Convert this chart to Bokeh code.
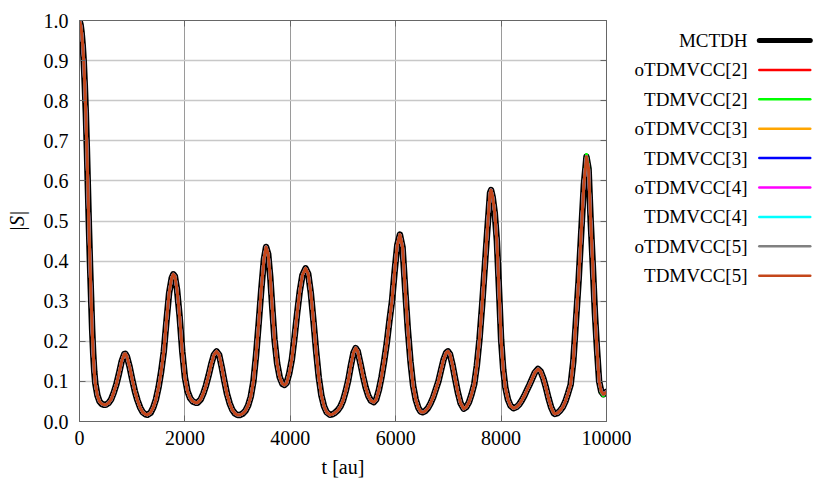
from bokeh.plotting import figure
from bokeh.layouts import row
from bokeh.models import (Range1d, FixedTicker, PrintfTickFormatter, LinearAxis,
                          ColumnDataSource, CustomJSTickFormatter)
from bokeh.embed import file_html
from bokeh.resources import INLINE

# ---------------- data ----------------
t = [0, 20, 40, 60, 80, 100, 120, 140, 160, 180, 200, 220, 240, 260, 280, 300, 340, 380, 420, 460, 500,
     550, 600, 650, 700, 750, 800, 850, 870, 900, 950, 1000, 1050, 1100, 1150, 1200, 1250, 1290,
     1350, 1400, 1450, 1500, 1550, 1600, 1650, 1700, 1750, 1780, 1810, 1850, 1900, 1950, 2000, 2050, 2100, 2150, 2200, 2240,
     2300, 2350, 2400, 2450, 2500, 2550, 2600, 2650, 2700, 2750, 2800, 2850, 2900, 2950, 3000, 3040,
     3100, 3150, 3200, 3250, 3300, 3350, 3400, 3450, 3500, 3540, 3580, 3620, 3660, 3700, 3750, 3800, 3850, 3890,
     3930, 3980, 4030, 4080, 4130, 4180, 4230, 4290, 4340, 4390, 4440, 4490, 4540, 4590, 4640, 4690, 4750,
     4800, 4850, 4900, 4950, 5000, 5050, 5100, 5150, 5200, 5240, 5280, 5330, 5380, 5430, 5480, 5530, 5585,
     5630, 5680, 5730, 5780, 5830, 5880, 5930, 5980, 6030, 6080, 6130, 6180, 6230, 6280, 6330, 6380, 6430, 6470, 6510,
     6560, 6610, 6660, 6710, 6760, 6810, 6860, 6910, 6960, 6990, 7030, 7080, 7130, 7180, 7230, 7290,
     7340, 7390, 7440, 7490, 7540, 7590, 7640, 7690, 7740, 7790, 7810, 7840, 7880, 7920, 7960, 8000, 8040, 8080, 8130, 8180, 8235,
     8290, 8340, 8390, 8440, 8490, 8540, 8590, 8640, 8700, 8750, 8800, 8850, 8900, 8950, 9000, 9020,
     9070, 9120, 9170, 9220, 9270, 9320, 9370, 9420, 9470, 9520, 9570, 9620, 9660, 9700, 9740, 9780, 9820, 9860, 9900, 9940, 9970, 10000]

s_mctdh = [1.000, 0.990, 0.970, 0.940, 0.900, 0.840, 0.770, 0.680, 0.580, 0.480, 0.390, 0.310, 0.230, 0.170, 0.125, 0.095, 0.065, 0.050, 0.044, 0.042, 0.042,
           0.046, 0.055, 0.072, 0.093, 0.120, 0.150, 0.168, 0.169, 0.162, 0.137, 0.105, 0.076, 0.053, 0.035, 0.023, 0.018, 0.017,
           0.022, 0.035, 0.055, 0.085, 0.125, 0.175, 0.250, 0.320, 0.358, 0.367, 0.362, 0.330, 0.262, 0.175, 0.110, 0.075, 0.058, 0.050, 0.047, 0.047,
           0.055, 0.070, 0.090, 0.115, 0.143, 0.166, 0.175, 0.166, 0.135, 0.100, 0.068, 0.045, 0.029, 0.020, 0.016, 0.016,
           0.020, 0.027, 0.040, 0.062, 0.100, 0.165, 0.245, 0.330, 0.405, 0.435, 0.418, 0.360, 0.280, 0.205, 0.145, 0.110, 0.094, 0.091,
           0.096, 0.120, 0.155, 0.210, 0.270, 0.325, 0.365, 0.382, 0.368, 0.320, 0.250, 0.175, 0.110, 0.065, 0.038, 0.023, 0.017,
           0.018, 0.022, 0.028, 0.037, 0.052, 0.075, 0.103, 0.140, 0.172, 0.183, 0.175, 0.145, 0.113, 0.085, 0.064, 0.052, 0.048,
           0.055, 0.078, 0.110, 0.150, 0.195, 0.250, 0.300, 0.375, 0.440, 0.466, 0.435, 0.330, 0.230, 0.150, 0.090, 0.055, 0.034, 0.025, 0.023,
           0.026, 0.033, 0.045, 0.060, 0.080, 0.100, 0.128, 0.155, 0.172, 0.175, 0.168, 0.140, 0.105, 0.072, 0.046, 0.032,
           0.036, 0.048, 0.068, 0.093, 0.140, 0.205, 0.290, 0.385, 0.480, 0.570, 0.577, 0.560, 0.520, 0.450, 0.330, 0.205, 0.130, 0.085, 0.055, 0.039, 0.033,
           0.036, 0.042, 0.052, 0.064, 0.078, 0.092, 0.107, 0.122, 0.131, 0.125, 0.108, 0.085, 0.058, 0.035, 0.021, 0.019,
           0.021, 0.027, 0.036, 0.050, 0.070, 0.092, 0.150, 0.250, 0.350, 0.470, 0.590, 0.660, 0.630, 0.500, 0.390, 0.270, 0.180, 0.100, 0.075, 0.068, 0.070, 0.074]

# TDMVCC[2] deviates slightly near the last maximum and at the end
s_tdmvcc2_changes = {9620: 0.666, 9660: 0.636, 9900: 0.072, 9940: 0.064}

labels = ["MCTDH", "oTDMVCC[2]", "TDMVCC[2]", "oTDMVCC[3]", "TDMVCC[3]",
          "oTDMVCC[4]", "TDMVCC[4]", "oTDMVCC[5]", "TDMVCC[5]"]
colors = ["#000000", "#ff0000", "#00ff00", "#ffa500", "#0000ff",
          "#ff00ff", "#00ffff", "#808080", "#c4461a"]
plot_widths = [6.5, 3, 3, 3, 3, 3, 3, 3, 3]
legend_widths = [5, 2.5, 2.5, 2.5, 2.5, 2.5, 2.5, 2.5, 2.5]

x_ticks = [0, 2000, 4000, 6000, 8000, 10000]
y_ticks = [0.0, 0.1, 0.2, 0.3, 0.4, 0.5, 0.6, 0.7, 0.8, 0.9, 1.0]

FONT = "Liberation Serif"
FS = "20px"

series = {}
for name in labels:
    ys = list(s_mctdh)
    if name == "TDMVCC[2]":
        ys = [s_tdmvcc2_changes.get(tt, v) for tt, v in zip(t, ys)]
    series[name] = ys

# ---------------- main figure ----------------
p = figure(width=631, height=480, x_range=Range1d(0, 10000), y_range=Range1d(0, 1.0),
           output_backend="svg", toolbar_location=None,
           min_border_left=79, min_border_right=25, min_border_top=20, min_border_bottom=59)
p.background_fill_color = "white"
p.border_fill_color = "white"
p.outline_line_color = "#666666"
p.outline_line_width = 1

p.xaxis.ticker = FixedTicker(ticks=x_ticks)
p.yaxis.ticker = FixedTicker(ticks=y_ticks)
p.yaxis.formatter = PrintfTickFormatter(format="%.1f")

for ax in (p.xaxis[0], p.yaxis[0]):
    ax.major_label_text_font = FONT
    ax.major_label_text_font_size = FS
    ax.major_label_text_color = "black"
    ax.major_tick_in = 6
    ax.major_tick_out = 0
    ax.minor_tick_line_color = None
    ax.axis_line_color = "#666666"
    ax.major_tick_line_color = "#666666"
    ax.axis_label_text_font = FONT
    ax.axis_label_text_font_size = FS
    ax.axis_label_text_color = "black"
p.xaxis.major_label_standoff = 9
p.yaxis.major_label_standoff = 11
p.yaxis.axis_label = "|S|"
p.yaxis.axis_label_text_font_style = "italic"
p.yaxis.axis_label_standoff = 13
p.xaxis.axis_label = "t [au]"
p.xaxis.axis_label_text_font_style = "normal"
p.xaxis.axis_label_standoff = 8

for loc, tk in (("right", y_ticks), ("above", x_ticks)):
    ax = LinearAxis(ticker=FixedTicker(ticks=tk),
                    formatter=CustomJSTickFormatter(code="return ''"),
                    major_label_standoff=0, major_tick_in=6, major_tick_out=0,
                    minor_tick_line_color=None, axis_line_color="#666666",
                    major_tick_line_color="#666666")
    p.add_layout(ax, loc)

p.xgrid.grid_line_color = "#9a9a9a"
p.xgrid.grid_line_width = 1
p.ygrid.grid_line_color = "#c8c8c8"
p.ygrid.grid_line_width = 1.5

for name, col, w in zip(labels, colors, plot_widths):
    src = ColumnDataSource(dict(t=t, s=series[name]))
    p.line("t", "s", source=src, line_color=col, line_width=w, line_join="round", line_cap="round")

# ---------------- legend panel (label left, line sample right) ----------------
# rows are indexed 0..8 from the top; names are drawn as the labels of a hidden axis
row_idx = list(range(len(labels)))
LW, LH = 198, 480
lg = figure(width=LW, height=LH, x_range=Range1d(751, 829), y_range=Range1d(12.959, -0.680),
            output_backend="svg", toolbar_location=None,
            x_axis_location=None, y_axis_location="left",
            min_border_left=120, min_border_right=0, min_border_top=20, min_border_bottom=59)
lg.outline_line_color = None
lg.grid.visible = False
lg.background_fill_color = "white"
lg.border_fill_color = "white"
ya = lg.yaxis[0]
ya.ticker = FixedTicker(ticks=row_idx)
ya.formatter = CustomJSTickFormatter(args=dict(names=labels),
                                     code="return names[Math.round(tick)] || ''")
ya.axis_line_color = None
ya.major_tick_line_color = None
ya.minor_tick_line_color = None
ya.major_tick_in = 0
ya.major_tick_out = 0
ya.major_label_standoff = 7
ya.major_label_text_font = FONT
ya.major_label_text_font_size = "19px"
ya.major_label_text_color = "black"

for i, col, w in zip(row_idx, colors, legend_widths):
    lg.line(x=[756, 809], y=[i, i], line_color=col, line_width=w, line_cap="round")

open("out.html", "w").write(file_html(row(p, lg), INLINE))
